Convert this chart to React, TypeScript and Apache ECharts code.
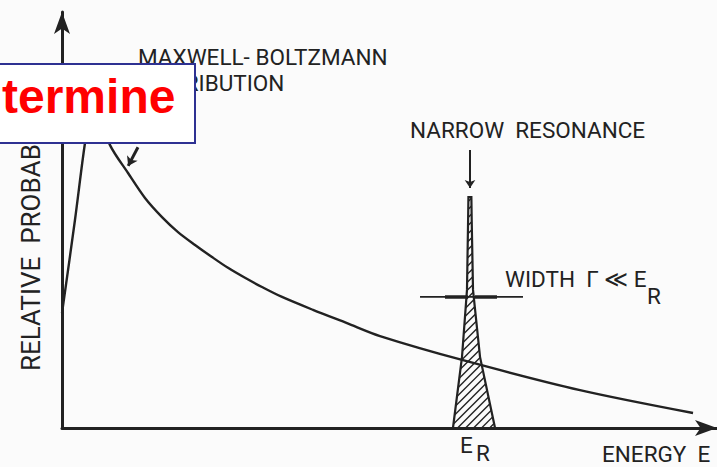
import React, { useEffect, useRef } from "react";
import * as echarts from "echarts";

// Maxwell-Boltzmann distribution (energy, relative probability)
const energyCurve = [0, 1.98, 3.51, 4.58, 5.5, 7.33, 10.08, 12.67, 15.27, 17.71, 20.31, 22.9, 25.34, 27.94, 30.53, 33.59, 38.32, 43.51, 48.55, 61.22, 79.08, 96.34];
const probabilityCurve = [27.6, 50.0, 68.5, 77.6, 76.4, 68.0, 61.3, 55.3, 50.7, 47.1, 44.0, 41.1, 38.5, 36.1, 33.9, 31.5, 28.4, 25.2, 22.1, 16.3, 9.1, 3.6];

// Narrow resonance outline: heights with left / right energy edges
const resonanceHeights = [0, 17.1, 33.2, 50, 55.5];
const resonanceLeft = [59.69, 61.07, 61.83, 62.0, 62.05];
const resonanceRight = [66.11, 63.82, 62.75, 62.55, 62.5];

// Width marker across the resonance
const widthLevel = 31.5;
const widthSpan = [54.66, 70.38];
const widthArrowLeft = [58.47, 61.98];
const widthArrowRight = [63.05, 66.41];

// Pointer arrows
const resonancePointer = [[62.29, 66.8], [62.29, 57.7]];
const distributionPointer = [[11.6, 67.5], [10.1, 63.0]];

const INK = "#222";
const FONT = "22.5px Roboto";

export default function App() {
  const ref = useRef<HTMLDivElement>(null);

  useEffect(() => {
    document.body.style.margin = "0";
    const chart = echarts.init(ref.current!, undefined, { renderer: "svg" });

    const curveData = energyCurve.map((e, i) => [e, probabilityCurve[i]]);

    const option: any = {
      animation: false,
      backgroundColor: "#fbfbfb",
      grid: { left: 62, right: 0, top: 12, bottom: 39 },
      xAxis: {
        type: "value",
        min: 0,
        max: 100,
        axisLine: {
          lineStyle: { color: INK, width: 3 },
          symbol: ["none", "arrow"],
          symbolSize: [12, 22],
        },
        axisTick: { show: false },
        axisLabel: { show: false },
        splitLine: { show: false },
      },
      yAxis: {
        type: "value",
        min: 0,
        max: 100,
        axisLine: {
          show: true,
          lineStyle: { color: INK, width: 3 },
          symbol: ["none", "arrow"],
          symbolSize: [12, 22],
        },
        axisTick: { show: false },
        axisLabel: { show: false },
        splitLine: { show: false },
      },
      series: [
        {
          type: "custom",
          data: [0],
          clip: false,
          z: 2,
          renderItem: (params: any, api: any) => {
            const left = resonanceHeights.map((h, i) => api.coord([resonanceLeft[i], h]));
            const right = resonanceHeights
              .map((h, i) => api.coord([resonanceRight[i], h]))
              .reverse();
            const poly = [...left, ...right];
            const sums = poly.map((p: number[]) => p[0] + p[1]);
            const lo = Math.min(...sums);
            const hi = Math.max(...sums);
            const children: any[] = [];
            const spacing = 8;
            // diagonal hatching clipped to the resonance outline
            for (let c = lo + spacing / 2; c < hi; c += spacing) {
              const pts: number[][] = [];
              for (let k = 0; k < poly.length; k++) {
                const p = poly[k];
                const q = poly[(k + 1) % poly.length];
                const fp = p[0] + p[1] - c;
                const fq = q[0] + q[1] - c;
                if ((fp < 0 && fq >= 0) || (fp >= 0 && fq < 0)) {
                  const t = fp / (fp - fq);
                  pts.push([p[0] + t * (q[0] - p[0]), p[1] + t * (q[1] - p[1])]);
                }
              }
              pts.sort((a, b) => a[0] - b[0]);
              for (let k = 0; k + 1 < pts.length; k += 2) {
                children.push({
                  type: "line",
                  shape: { x1: pts[k][0], y1: pts[k][1], x2: pts[k + 1][0], y2: pts[k + 1][1] },
                  style: { stroke: INK, lineWidth: 1.4 },
                });
              }
            }
            children.push({
              type: "polygon",
              shape: { points: poly },
              style: { fill: "none", stroke: INK, lineWidth: 2.2 },
            });
            return { type: "group", children };
          },
        },
        {
          type: "line",
          data: curveData,
          smooth: 0.3,
          symbol: "none",
          z: 3,
          lineStyle: { color: INK, width: 2.4 },
        },
        {
          type: "line",
          data: widthSpan.map((e) => [e, widthLevel]),
          symbol: "none",
          z: 3,
          lineStyle: { color: INK, width: 1.8 },
        },
        {
          type: "line",
          data: widthArrowLeft.map((e) => [e, widthLevel]),
          symbol: "none",
          z: 3,
          lineStyle: { color: INK, width: 3.6 },
        },
        {
          type: "line",
          data: widthArrowRight.map((e) => [e, widthLevel]),
          symbol: "none",
          z: 3,
          lineStyle: { color: INK, width: 3.6 },
        },
        {
          type: "lines",
          coordinateSystem: "cartesian2d",
          symbol: ["none", "arrow"],
          symbolSize: 8,
          z: 3,
          lineStyle: { color: INK, width: 2, opacity: 1 },
          data: [{ coords: resonancePointer }],
        },
        {
          type: "lines",
          coordinateSystem: "cartesian2d",
          symbol: ["none", "arrow"],
          symbolSize: 9,
          z: 3,
          lineStyle: { color: INK, width: 3, opacity: 1 },
          data: [{ coords: distributionPointer }],
        },
      ],
      graphic: [
        {
          type: "text",
          x: 31,
          y: 371,
          rotation: Math.PI / 2,
          z: 5,
          style: { text: "RELATIVE  PROBABILITY", x: 0, y: 0, font: "26px Roboto", fill: INK, textAlign: "left", textVerticalAlign: "middle" },
        },
        {
          type: "text",
          z: 5,
          style: { text: "MAXWELL- BOLTZMANN", x: 138, y: 57, font: FONT, fill: INK, textAlign: "left", textVerticalAlign: "middle" },
        },
        {
          type: "text",
          z: 5,
          style: { text: "DISTRIBUTION", x: 137, y: 83, font: FONT, fill: INK, textAlign: "left", textVerticalAlign: "middle" },
        },
        {
          type: "text",
          z: 5,
          style: { text: "NARROW  RESONANCE", x: 410, y: 130, font: FONT, fill: INK, textAlign: "left", textVerticalAlign: "middle" },
        },
        {
          type: "text",
          z: 5,
          style: { text: "WIDTH  Γ ≪ E", x: 505, y: 279, font: FONT, fill: INK, textAlign: "left", textVerticalAlign: "middle" },
        },
        {
          type: "text",
          z: 5,
          style: { text: "R", x: 647, y: 296, font: FONT, fill: INK, textAlign: "left", textVerticalAlign: "middle" },
        },
        {
          type: "text",
          z: 5,
          style: { text: "E", x: 460, y: 445, font: FONT, fill: INK, textAlign: "left", textVerticalAlign: "middle" },
        },
        {
          type: "text",
          z: 5,
          style: { text: "R", x: 476, y: 453, font: FONT, fill: INK, textAlign: "left", textVerticalAlign: "middle" },
        },
        {
          type: "text",
          z: 5,
          style: { text: "ENERGY  E", x: 602, y: 454, font: FONT, fill: INK, textAlign: "left", textVerticalAlign: "middle" },
        },
        {
          type: "rect",
          z: 10,
          shape: { x: -2, y: 64, width: 197, height: 79 },
          style: { fill: "#ffffff", stroke: "#2e3192", lineWidth: 2 },
        },
        {
          type: "text",
          z: 11,
          style: { text: "termine", x: 2, y: 120, font: "bold 48px 'Liberation Sans', Arial", fill: "#ff0000", textAlign: "left", textVerticalAlign: "bottom" },
        },
      ],
    };

    chart.setOption(option);
    return () => chart.dispose();
  }, []);

  return <div ref={ref} style={{ width: 717, height: 467 }} />;
}
